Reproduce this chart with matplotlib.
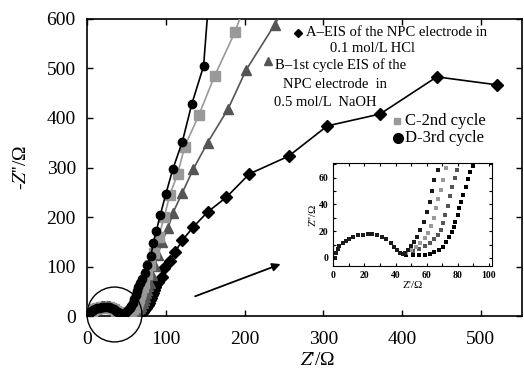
import matplotlib
matplotlib.use("Agg")
import matplotlib.pyplot as plt
from matplotlib.ticker import MultipleLocator

plt.rcParams['font.family'] = ['Liberation Serif', 'DejaVu Serif']
plt.rcParams['mathtext.fontset'] = 'stix'

# shared low-frequency semicircle
arc_x = [1, 2, 3, 4, 6, 8, 10, 13, 16, 19, 22, 25, 28, 31, 34, 37, 39, 41, 43, 44.5]
arc_y = [0, 4, 7, 9, 11, 13, 14.5, 16, 17, 17.5, 18, 18, 17.5, 16, 14, 11, 8.5, 6, 4, 3]

# A - EIS in 0.1 mol/L HCl
a_x = arc_x + [47, 51, 55, 59, 62, 65, 68, 70.5, 72.5, 74.5, 76, 77.5, 78.5, 80, 81, 82,
               83.5, 85, 86.5, 88, 89.5, 95, 98, 105, 112, 121, 135, 153, 177, 206, 256,
               305, 372, 444, 520]
a_y = arc_y + [2.5, 2, 2, 2.5, 3, 4.5, 6, 8.5, 12, 15.5, 19.5, 23, 27, 32, 37, 42,
               47, 53, 59, 64, 69, 79, 97, 111, 130, 153, 180, 210, 240, 287, 323,
               384, 408, 483, 467]

# B - 1st cycle in 0.5 mol/L NaOH
b_x = arc_x + [47, 51, 55, 59, 62, 65, 67, 69, 70.5, 72, 73.5, 75, 76.5, 78, 79.5,
               83, 86, 90, 95, 103, 109, 121, 135, 153, 179, 202, 238, 265]
b_y = arc_y + [3.5, 5, 7, 9, 11, 14, 17, 21, 26, 32, 39, 46, 53, 60, 66,
               82, 102, 124, 150, 178, 208, 249, 297, 350, 418, 497, 588, 660]

# C - 2nd cycle
c_x = arc_x + [47, 50, 53, 56, 59, 61, 63, 64.5, 66, 67.5, 69, 70.5, 72.5,
               76, 80, 85, 91, 98, 105, 115, 124, 142, 162, 188, 205]
c_y = arc_y + [4, 6, 8, 11, 15, 19, 24, 30, 37, 44, 51, 58, 67,
               85, 104, 128, 160, 200, 244, 287, 342, 406, 485, 574, 650]

# D - 3rd cycle
d_x = arc_x + [46, 48, 50, 52, 54, 56, 58, 60, 62, 63.5, 65, 67,
               70, 73, 76, 81, 84, 88, 93, 100, 109, 121, 133, 148, 155]
d_y = arc_y + [4, 6, 9, 12, 16, 21, 27, 34, 42, 50, 58, 66,
               74, 88, 103, 121, 147, 172, 204, 246, 297, 352, 428, 505, 650]

x_ticks = [0, 100, 200, 300, 400, 500]
y_ticks = [0, 100, 200, 300, 400, 500, 600]

fig = plt.figure(figsize=(5.24, 3.71), dpi=100)
ax = fig.add_axes([0.166, 0.148, 0.830, 0.801])

ax.plot(a_x, a_y, '-', color='black', lw=1.2, marker='D', ms=6, zorder=3)
ax.plot(b_x, b_y, '-', color='#555555', lw=1.2, marker='^', ms=7.5, zorder=4)
ax.plot(c_x, c_y, '-', color='#999999', lw=1.2, marker='s', ms=7, zorder=5)
ax.plot(d_x, d_y, '-', color='black', lw=1.2, marker='o', ms=6, zorder=6)

ax.set_xlim(0, 552)
ax.set_ylim(0, 600)
ax.set_xticks(x_ticks)
ax.set_yticks(y_ticks)
ax.tick_params(direction='in', top=True, right=True, labelsize=14, length=4, width=1)
ax.tick_params(axis='x', pad=11)
ax.tick_params(axis='y', pad=8)
for s in ax.spines.values():
    s.set_linewidth(1.2)

ax.set_xlabel("$Z$'/Ω", fontsize=14)
ax.xaxis.set_label_coords(0.531, -0.12)
ax.set_ylabel("-$Z$''/Ω", fontsize=14)
ax.yaxis.set_label_coords(-0.13, 0.5)

# circle around the semicircle region and arrow to the inset
ax.plot([34], [4], marker='o', ms=39.5, mfc='none', mec='black', mew=1.0,
        clip_on=False, zorder=7)
ax.annotate('', xy=(249, 107), xytext=(134, 38),
            arrowprops=dict(arrowstyle='-|>', color='black', lw=1.3,
                            mutation_scale=12))

# legend as free text
tr = ax.transAxes
ax.plot([0.485], [0.953], 'D', color='black', ms=4.5, transform=tr, clip_on=False)
ax.text(0.503, 0.953, "A–EIS of the NPC electrode in", transform=tr,
        fontsize=10.5, va='center')
ax.text(0.559, 0.899, "0.1 mol/L HCl", transform=tr, fontsize=10.5, va='center')
ax.plot([0.416], [0.857], '^', color='#555555', ms=6, transform=tr)
ax.text(0.432, 0.845, "B–1st cycle EIS of the", transform=tr, fontsize=10.5, va='center')
ax.text(0.451, 0.781, "NPC electrode  in", transform=tr, fontsize=10.5, va='center')
ax.text(0.430, 0.720, "0.5 mol/L  NaOH", transform=tr, fontsize=10.5, va='center')
ax.plot([0.713], [0.657], 's', color='#999999', ms=5, transform=tr)
ax.text(0.731, 0.657, "C-2nd cycle", transform=tr, fontsize=12, va='center')
ax.plot([0.715], [0.599], 'o', color='black', ms=7, transform=tr)
ax.text(0.731, 0.599, "D-3rd cycle", transform=tr, fontsize=12, va='center')

# inset
ins = fig.add_axes([0.636, 0.283, 0.303, 0.278])
ins.plot(a_x, a_y, 's', color='black', ms=2.8, mew=0)
ins.plot(b_x, b_y, 's', color='#555555', ms=2.8, mew=0)
ins.plot(c_x, c_y, 's', color='#999999', ms=2.8, mew=0)
ins.plot(d_x, d_y, 's', color='#1a1a1a', ms=2.8, mew=0)
ins.set_xlim(0, 102)
ins.set_ylim(-6, 71)
ins.set_xticks([0, 20, 40, 60, 80, 100])
ins.set_yticks([0, 20, 40, 60])
ins.xaxis.set_minor_locator(MultipleLocator(10))
ins.yaxis.set_minor_locator(MultipleLocator(10))
ins.tick_params(which='both', direction='in', top=True, right=True, labelsize=7,
                length=2.5, width=0.8)
for lab in ins.get_xticklabels() + ins.get_yticklabels():
    lab.set_fontweight('bold')
ins.set_xlabel("Z'/Ω", fontsize=8, labelpad=1)
ins.set_ylabel("Z''/Ω", fontsize=8, labelpad=1)

fig.savefig("out.png", dpi=100)
